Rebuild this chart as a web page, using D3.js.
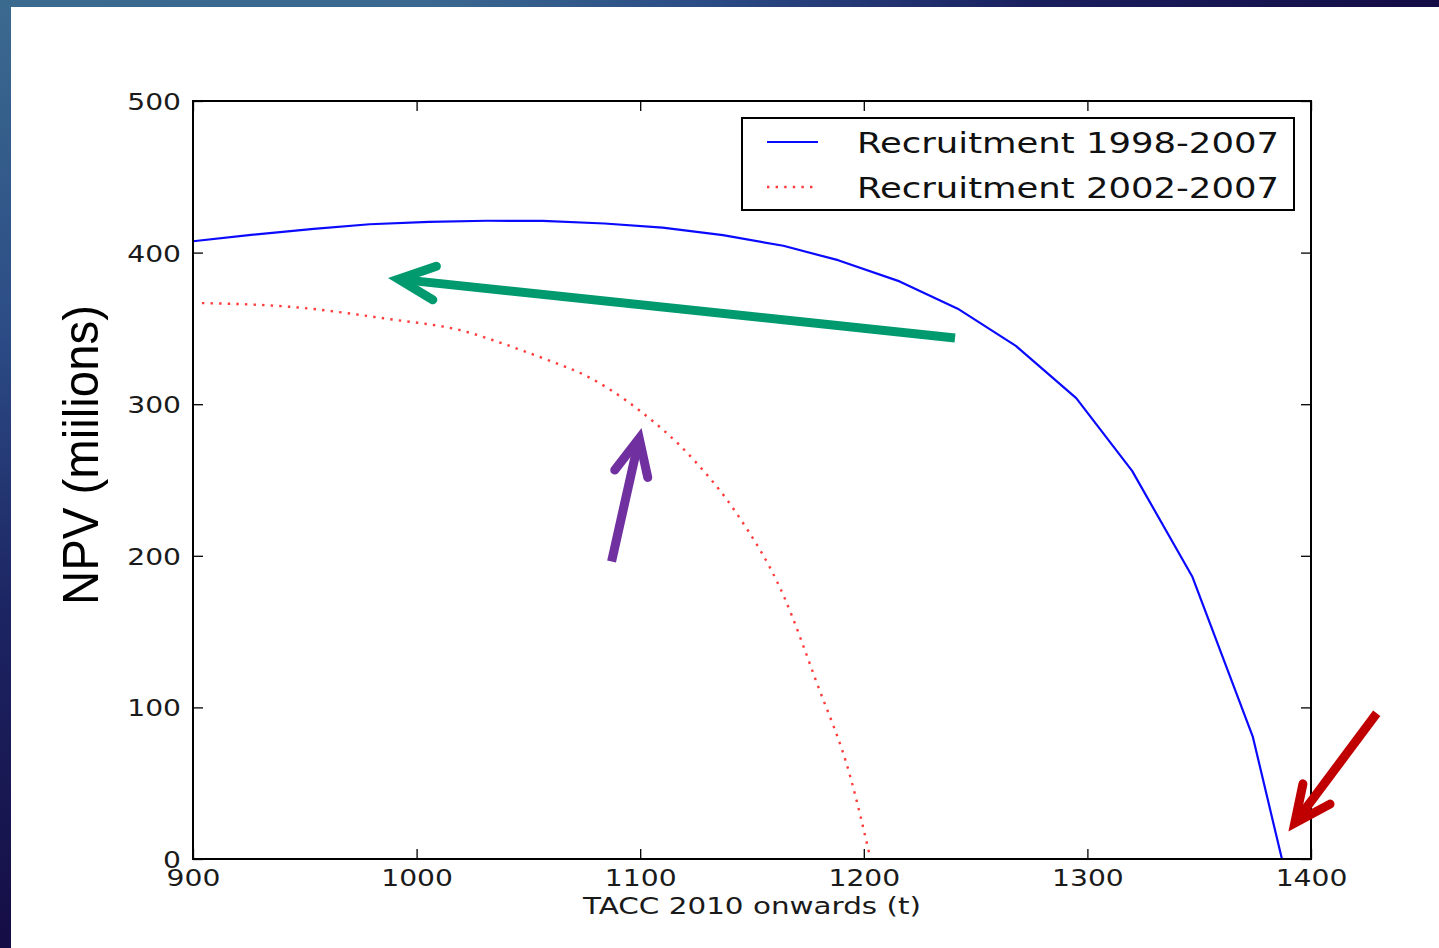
<!DOCTYPE html>
<html>
<head>
<meta charset="utf-8">
<script src="https://cdn.jsdelivr.net/npm/d3@7"></script>
<style>
  html, body { margin: 0; padding: 0; background: #fff; }
  svg { display: block; }
</style>
</head>
<body>
<svg id="slide" width="1439" height="948"></svg>
<script>
// NPV curves against the TACC level (from 2010 onwards)
const tacc1998 = [900, 927, 954, 979, 1005.5, 1031.5, 1056.5, 1084, 1110, 1137, 1164, 1188.5, 1216, 1242, 1268, 1295, 1320, 1347, 1374, 1387];
const npv1998  = [407.5, 411.8, 415.6, 418.7, 420.3, 421, 420.9, 419.2, 416.5, 411.5, 404.5, 395, 381, 363, 338.5, 304, 256, 186, 80.5, 0];

const tacc2002 = [904, 943, 988, 1019, 1048, 1060, 1075, 1100, 1124, 1143, 1164, 1179, 1194, 1203];
const npv2002  = [366.7, 364.3, 356.1, 349, 335, 328.4, 319.3, 295.5, 263.2, 228.2, 174.1, 116.1, 54.1, 0];

const xTicks = [900, 1000, 1100, 1200, 1300, 1400];
const yTicks = [0, 100, 200, 300, 400, 500];

const seriesNames = ["Recruitment 1998-2007", "Recruitment 2002-2007"];

// Annotation arrows: tail and visible tip in data units
const arrowTails = [[1240.8, 343.7], [1087.2, 196.3], [1429.4, 96.1]];
const arrowTips  = [[987.2, 383.2], [1100.6, 284.3], [1389.9, 18.1]];
const arrowColors = ["#009a6e", "#7030a0", "#c00000"];

const svg = d3.select("#slide");

// Slide frame: gradient bands along top and left edges
const defs = svg.append("defs");
const gTop = defs.append("linearGradient").attr("id", "bandTop").attr("x1", 0).attr("x2", 1).attr("y1", 0).attr("y2", 0);
gTop.append("stop").attr("offset", "0%").attr("stop-color", "#3b6a8f");
gTop.append("stop").attr("offset", "30%").attr("stop-color", "#3a6890");
gTop.append("stop").attr("offset", "50%").attr("stop-color", "#2a4a84");
gTop.append("stop").attr("offset", "72%").attr("stop-color", "#1a1f5e");
gTop.append("stop").attr("offset", "100%").attr("stop-color", "#130c45");
const gLeft = defs.append("linearGradient").attr("id", "bandLeft").attr("x1", 0).attr("x2", 0).attr("y1", 0).attr("y2", 1);
gLeft.append("stop").attr("offset", "0%").attr("stop-color", "#3b6a8f");
gLeft.append("stop").attr("offset", "35%").attr("stop-color", "#2c4c86");
gLeft.append("stop").attr("offset", "65%").attr("stop-color", "#1c2462");
gLeft.append("stop").attr("offset", "100%").attr("stop-color", "#150d45");

svg.append("rect").attr("x", 0).attr("y", 0).attr("width", 1439).attr("height", 7).attr("fill", "url(#bandTop)");
svg.append("rect").attr("x", 0).attr("y", 0).attr("width", 11).attr("height", 948).attr("fill", "url(#bandLeft)");

// Plot area
const x = d3.scaleLinear().domain([900, 1400]).range([193, 1311]);
const y = d3.scaleLinear().domain([0, 500]).range([859, 101]);

const tickFont = "'DejaVu Sans', sans-serif";

function styleAxis(g) {
  g.select(".domain").remove();
  g.selectAll(".tick line").attr("stroke", "#000").attr("stroke-width", 1.3);
}

// bottom axis with labels
const axB = svg.append("g").attr("transform", `translate(0,${y(0)})`)
  .call(d3.axisBottom(x).tickValues(xTicks).tickSize(-10).tickFormat(d3.format("d")));
styleAxis(axB);
axB.selectAll(".tick text")
  .attr("y", null).attr("dy", null)
  .attr("transform", "translate(0,27) scale(1.2,1)")
  .attr("text-anchor", "middle")
  .attr("fill", "#1a1a1a")
  .style("font-family", tickFont).style("font-size", "23.5px");

// top axis, ticks only
const axT = svg.append("g").attr("transform", `translate(0,${y(500)})`)
  .call(d3.axisTop(x).tickValues(xTicks).tickSize(-10).tickFormat(""));
styleAxis(axT);

// left axis with labels
const axL = svg.append("g").attr("transform", `translate(${x(900)},0)`)
  .call(d3.axisLeft(y).tickValues(yTicks).tickSize(-10).tickFormat(d3.format("d")));
styleAxis(axL);
axL.selectAll(".tick text")
  .attr("x", null).attr("dy", null)
  .attr("transform", "translate(-12,8.5) scale(1.2,1)")
  .attr("text-anchor", "end")
  .attr("fill", "#1a1a1a")
  .style("font-family", tickFont).style("font-size", "23.5px");

// right axis, ticks only
const axR = svg.append("g").attr("transform", `translate(${x(1400)},0)`)
  .call(d3.axisRight(y).tickValues(yTicks).tickSize(-10).tickFormat(""));
styleAxis(axR);

// series
const line = d3.line().x(d => x(d[0])).y(d => y(d[1]));
const smooth = d3.line().x(d => x(d[0])).y(d => y(d[1])).curve(d3.curveMonotoneX);

svg.append("path")
  .datum(d3.zip(tacc2002, npv2002))
  .attr("d", smooth)
  .attr("fill", "none")
  .attr("stroke", "#ff3b3b")
  .attr("stroke-width", 2.4)
  .attr("stroke-dasharray", "2.4 6.2");

svg.append("path")
  .datum(d3.zip(tacc1998, npv1998))
  .attr("d", line)
  .attr("fill", "none")
  .attr("stroke", "#0a0aff")
  .attr("stroke-width", 2.2)
  .attr("stroke-linejoin", "round");

// frame
svg.append("rect")
  .attr("x", x(900)).attr("y", y(500))
  .attr("width", x(1400) - x(900)).attr("height", y(0) - y(500))
  .attr("fill", "none").attr("stroke", "#000").attr("stroke-width", 2);

// legend
const legend = svg.append("g");
legend.append("rect")
  .attr("x", 742).attr("y", 118).attr("width", 552).attr("height", 92)
  .attr("fill", "#fff").attr("stroke", "#000").attr("stroke-width", 2);
const legendStyles = [
  { stroke: "#0a0aff", dash: null, width: 2.2 },
  { stroke: "#ff3b3b", dash: "2.4 6.2", width: 2.4 }
];
seriesNames.forEach((name, i) => {
  const cy = 142 + i * 45;
  legend.append("line")
    .attr("x1", 767).attr("x2", 818).attr("y1", cy).attr("y2", cy)
    .attr("stroke", legendStyles[i].stroke)
    .attr("stroke-width", legendStyles[i].width)
    .attr("stroke-dasharray", legendStyles[i].dash);
  legend.append("text")
    .attr("x", 857).attr("y", cy + 11)
    .attr("textLength", 422).attr("lengthAdjust", "spacingAndGlyphs")
    .attr("fill", "#111")
    .style("font-family", tickFont).style("font-size", "29px")
    .text(name);
});

// axis titles
svg.append("text")
  .attr("x", 583).attr("y", 914)
  .attr("textLength", 338).attr("lengthAdjust", "spacingAndGlyphs")
  .attr("fill", "#1a1a1a")
  .style("font-family", tickFont).style("font-size", "23.5px")
  .text("TACC 2010 onwards (t)");

svg.append("text")
  .attr("transform", "translate(98,455) rotate(-90)")
  .attr("text-anchor", "middle")
  .attr("textLength", 300).attr("lengthAdjust", "spacingAndGlyphs")
  .attr("fill", "#000")
  .style("font-family", "'Liberation Sans', Arial, sans-serif").style("font-size", "50px")
  .text("NPV (miilions)");

// annotation arrows (open heads; the join point is set back so the mitred apex lands on the tip)
const headLen = 40, headAngle = 25 * Math.PI / 180, strokeW = 9;
const miterBack = (strokeW / 2) / Math.sin(headAngle);
arrowTails.forEach((tail, i) => {
  const t = [x(tail[0]), y(tail[1])];
  const tip = [x(arrowTips[i][0]), y(arrowTips[i][1])];
  const ang = Math.atan2(t[1] - tip[1], t[0] - tip[0]);
  const p = [tip[0] + miterBack * Math.cos(ang), tip[1] + miterBack * Math.sin(ang)];
  const a1 = [p[0] + headLen * Math.cos(ang - headAngle), p[1] + headLen * Math.sin(ang - headAngle)];
  const a2 = [p[0] + headLen * Math.cos(ang + headAngle), p[1] + headLen * Math.sin(ang + headAngle)];
  const g = svg.append("g").attr("stroke", arrowColors[i]).attr("fill", "none").attr("stroke-width", strokeW);
  g.append("line")
    .attr("x1", t[0]).attr("y1", t[1])
    .attr("x2", p[0] + 4 * Math.cos(ang)).attr("y2", p[1] + 4 * Math.sin(ang))
    .attr("stroke-linecap", "butt");
  g.append("path")
    .attr("d", d3.line()([a1, p, a2]))
    .attr("stroke-linecap", "round")
    .attr("stroke-linejoin", "miter")
    .attr("stroke-miterlimit", 10);
});
</script>
</body>
</html>
